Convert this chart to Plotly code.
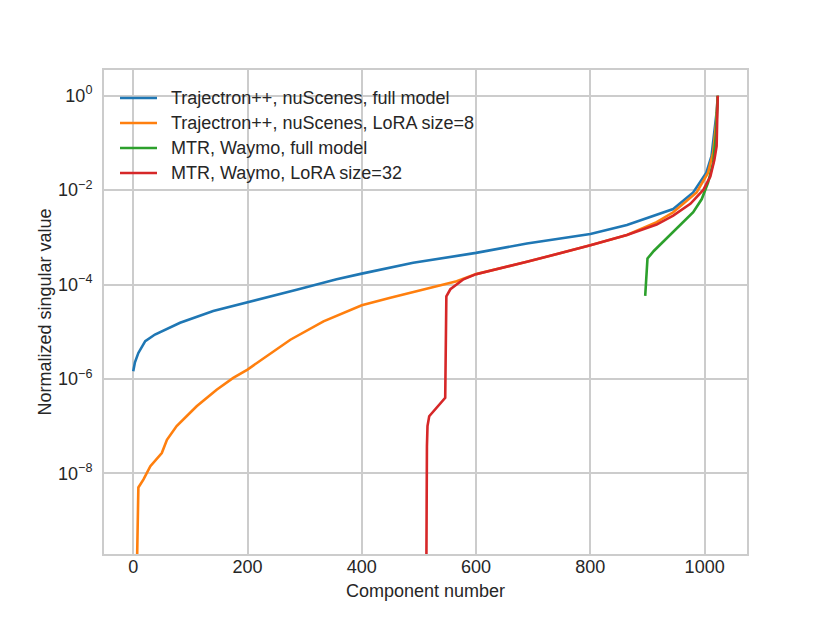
import plotly.graph_objects as go

# ---- data ----
traj_full_x = [0, 3, 9, 21, 38, 60, 82, 140, 200, 286, 356, 400, 490, 600, 689, 800, 864, 916, 945, 980, 1003, 1012, 1018, 1021, 1023]
traj_full_y = [1.45e-6, 2.24e-6, 3.55e-6, 6.31e-6, 8.71e-6, 1.17e-5, 1.55e-5, 2.75e-5, 4.27e-5, 7.76e-5, 1.29e-4,
               1.70e-4, 2.88e-4, 4.68e-4, 7.41e-4, 1.17e-3, 1.82e-3, 2.95e-3, 3.98e-3, 8.91e-3, 2.34e-2, 5.25e-2,
               0.20, 0.447, 1.0]

traj_lora_x = [5, 7, 9, 18, 30, 50, 59, 76, 111, 146, 175, 200, 257, 275, 333, 400, 450, 508, 566, 600, 689, 800, 864, 916, 945, 986, 1006, 1015, 1020, 1023]
traj_lora_y = [1e-11, 1e-9, 5.0e-9, 7.41e-9, 1.41e-8, 2.69e-8, 5.13e-8, 1.0e-7, 2.63e-7, 5.89e-7, 1.05e-6, 1.58e-6,
               4.68e-6, 6.76e-6, 1.66e-5, 3.63e-5, 5.25e-5, 7.76e-5, 1.17e-4, 1.66e-4, 3.02e-4, 6.76e-4, 1.12e-3,
               2.09e-3, 3.39e-3, 8.91e-3, 2.34e-2, 6.31e-2, 0.251, 1.0]

mtr_full_x = [896, 898, 900, 911, 922, 934, 963, 980, 995, 1006, 1015, 1020, 1023]
mtr_full_y = [5.75e-5, 1.6e-4, 3.55e-4, 5.13e-4, 6.92e-4, 9.55e-4, 2.04e-3, 3.39e-3, 6.46e-3, 1.45e-2, 3.80e-2,
              0.158, 1.0]

mtr_lora_x = [512, 513, 514, 515, 518, 546, 548, 555, 578, 600, 689, 800, 864, 916, 945, 975, 998, 1010, 1017, 1021, 1022, 1023]
mtr_lora_y = [1e-11, 1e-10, 3.72e-8, 1.0e-7, 1.62e-7, 3.98e-7, 5.62e-5, 7.94e-5, 1.29e-4, 1.66e-4, 3.02e-4,
              6.76e-4, 1.12e-3, 1.86e-3, 2.88e-3, 5.13e-3, 1.02e-2, 1.95e-2, 4.37e-2, 8.51e-2, 0.316, 1.0]

series_names = ["Trajectron++, nuScenes, full model",
                "Trajectron++, nuScenes, LoRA size=8",
                "MTR, Waymo, full model",
                "MTR, Waymo, LoRA size=32"]
series_colors = ["#1f77b4", "#ff7f0e", "#2ca02c", "#d62728"]

y_tick_vals = [1, 1e-2, 1e-4, 1e-6, 1e-8]
y_tick_text = ["10<sup>0</sup>", "10<sup>\u22122</sup>", "10<sup>\u22124</sup>",
               "10<sup>\u22126</sup>", "10<sup>\u22128</sup>"]
x_tick_vals = [0, 200, 400, 600, 800, 1000]

FONT = "Liberation Sans, Arial, sans-serif"
TXT = "#262626"
GRID = "#cccccc"
FS = 18

# plot area in pixels (page has an 8px body margin)
L, T, W, H = 96, 62, 643, 484


def px_to_paper(px, py):
    # px, py are picture coordinates (including 8px page offset)
    return (px - 8 - L) / W, 1 - (py - 8 - T) / H


fig = go.Figure()
xs = [traj_full_x, traj_lora_x, mtr_full_x, mtr_lora_x]
ys = [traj_full_y, traj_lora_y, mtr_full_y, mtr_lora_y]
for i in range(4):
    fig.add_trace(go.Scatter(x=xs[i], y=ys[i], mode="lines", name=series_names[i],
                             showlegend=False,
                             line=dict(color=series_colors[i], width=2.6)))

# legend drawn inside the axes, matplotlib style (no frame)
shapes = []
annotations = []
for i in range(4):
    py = 98 + 25 * i
    x0, yy = px_to_paper(120, py)
    x1, _ = px_to_paper(157, py)
    xt, _ = px_to_paper(169, py)
    shapes.append(dict(type="line", xref="paper", yref="paper", x0=x0, x1=x1, y0=yy, y1=yy,
                       line=dict(color=series_colors[i], width=2.6)))
    annotations.append(dict(xref="paper", yref="paper", x=xt, y=yy, xanchor="left", yanchor="middle",
                            text=series_names[i], showarrow=False,
                            font=dict(family=FONT, size=FS, color=TXT)))

fig.update_layout(
    width=830, height=623,
    margin=dict(l=L, r=830 - L - W, t=T, b=623 - T - H),
    paper_bgcolor="white", plot_bgcolor="white",
    font=dict(family=FONT, size=FS, color=TXT),
    showlegend=False,
    shapes=shapes,
    annotations=annotations,
    xaxis=dict(range=[-51.15, 1074.15], tickvals=x_tick_vals,
               showgrid=True, gridcolor=GRID, gridwidth=1.5,
               showline=True, linecolor=GRID, linewidth=2, mirror=True,
               zeroline=False, ticks="", ticklen=0, ticklabelstandoff=-5,
               tickfont=dict(family=FONT, size=FS, color=TXT),
               title=dict(text="Component number", standoff=9,
                          font=dict(family=FONT, size=FS, color=TXT))),
    yaxis=dict(type="log", range=[-9.71, 0.545], tickvals=y_tick_vals, ticktext=y_tick_text,
               showgrid=True, gridcolor=GRID, gridwidth=1.5,
               showline=True, linecolor=GRID, linewidth=2, mirror=True,
               zeroline=False, ticks="", ticklen=0, ticklabelstandoff=6,
               tickfont=dict(family=FONT, size=FS, color=TXT),
               title=dict(text="Normalized singular value", standoff=2,
                          font=dict(family=FONT, size=FS, color=TXT))),
)

fig.write_html("out.html")
